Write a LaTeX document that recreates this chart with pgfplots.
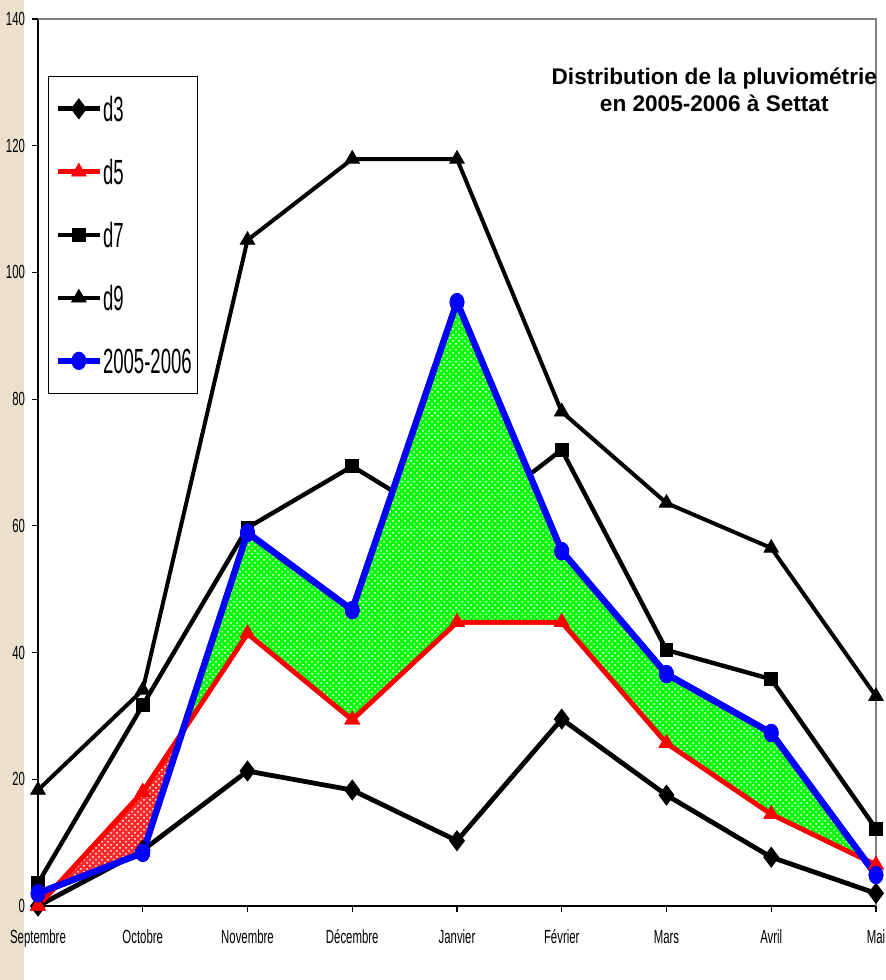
\documentclass[border=0pt]{standalone}
\usepackage{fontspec}
\setmainfont{Liberation Sans}
\newfontfamily\ticknarrow[FakeStretch=0.6]{Liberation Sans}
\newfontfamily\legnarrow[FakeStretch=0.53]{Liberation Sans}
\usepackage{pgfplots}
\pgfplotsset{compat=1.18}
\usepgfplotslibrary{fillbetween}
\usetikzlibrary{patterns}
\definecolor{beige}{RGB}{234,224,204}
\definecolor{pgreen}{RGB}{0,255,0}
\definecolor{pred}{RGB}{255,40,40}

\pgfplotstableread{
x d3 d5 d7 d9 obs
0 0 0 3.6 18.3 2.0
1 8.8 18 31.7 34.1 8.4
2 21.3 43 59.7 105.1 58.9
3 18.3 29.4 69.4 117.9 46.7
4 10.3 44.8 59.3 117.9 95.3
5 29.5 44.8 72 78 56
6 17.5 25.7 40.4 63.6 36.6
7 7.7 14.5 35.8 56.5 27.3
8 2.0 6.5 12.2 33.1 4.9
}\datatable

\begin{document}
\begin{tikzpicture}
\fill[beige] (-19pt,-37pt) rectangle (-7pt,453pt);
\begin{axis}[
  scale only axis, width=419pt, height=443.5pt,
  xmin=0, xmax=8, ymin=0, ymax=140,
  axis x line=bottom, axis y line=left,
  axis line style={-, black, line width=1pt},
  xtick={0,...,8},
  xticklabels={Septembre,Octobre,Novembre,Décembre,Janvier,Février,Mars,Avril,Mai},
  ytick={0,20,...,140},
  tick align=outside, major tick length=3pt,
  tick style={black, line width=0.6pt},
  ticklabel style={font=\ticknarrow\fontsize{9.5}{10}\selectfont},
  xticklabel style={yshift=-4pt, text height=8pt, text depth=2pt},
  /pgf/number format/assume math mode=true,
  clip=false,
  fill between/on layer=main,
  legend cell align=left,
  legend style={at={(0.012,0.936)}, anchor=north west, draw=black, line width=0.6pt,
    font=\legnarrow\fontsize{17.5}{18}\selectfont,
    inner xsep=3pt, inner ysep=10pt, row sep=19pt,
    nodes={inner sep=0pt, text height=12.5pt, text depth=0pt}},
  legend image code/.code={\draw (0pt,0pt) -- (21pt,0pt); \draw plot coordinates {(10.5pt,0pt)};},
]
\addplot[black, line width=2.4pt, mark=diamond*, mark size=5pt, mark options={line width=0.4pt}] table[x=x,y=d3] {\datatable};
\addlegendentry{d3}
\addplot[red, line width=2.4pt, name path=A, mark=triangle*, mark size=4.2pt, mark options={line width=0.4pt}] table[x=x,y=d5] {\datatable};
\addlegendentry{d5}
\addplot[black, line width=2.2pt, mark=square*, mark size=3.2pt, mark indices={1,2,3,4,6,7,8,9}, mark options={line width=0.4pt}] table[x=x,y=d7] {\datatable};
\addlegendentry{d7}
\addplot[black, line width=2pt, mark=triangle*, mark size=4.2pt, mark options={line width=0.4pt}] table[x=x,y=d9] {\datatable};
\addlegendentry{d9}
\addplot[blue, line width=3.2pt, name path=B, mark=*, mark size=3.5pt, mark options={yscale=1.25, line width=0.4pt}] table[x=x,y=obs] {\datatable};
\addlegendentry{2005-2006}

\addplot[draw=black, line width=0.5pt] fill between[of=A and B, split,
  every segment no 0/.style={fill=pgreen, postaction={pattern=crosshatch dots, pattern color=white}},
  every segment no 1/.style={fill=pred, postaction={pattern=crosshatch dots, pattern color=white}},
  every segment no 2/.style={fill=pgreen, postaction={pattern=crosshatch dots, pattern color=white}},
  every segment no 3/.style={fill=pred, postaction={pattern=crosshatch dots, pattern color=white}}];

\addplot[red, line width=2.4pt, mark=triangle*, mark size=4.2pt, mark options={line width=0.4pt}, forget plot] table[x=x,y=d5] {\datatable};
\addplot[blue, line width=3.2pt, mark=*, mark size=3.5pt, mark options={yscale=1.25, line width=0.4pt}, forget plot] table[x=x,y=obs] {\datatable};

\draw[gray, line width=1pt] (rel axis cs:0,1) -- (rel axis cs:1,1) -- (rel axis cs:1,0);
\node[font=\bfseries\fontsize{11.3}{13.5}\selectfont, align=center] at (rel axis cs:0.807,0.92) {Distribution de la pluviométrie\\en 2005-2006 à Settat};
\end{axis}
\pgfresetboundingbox
\path (-19pt,-37pt) rectangle (424pt,453pt);
\end{tikzpicture}
\end{document}
